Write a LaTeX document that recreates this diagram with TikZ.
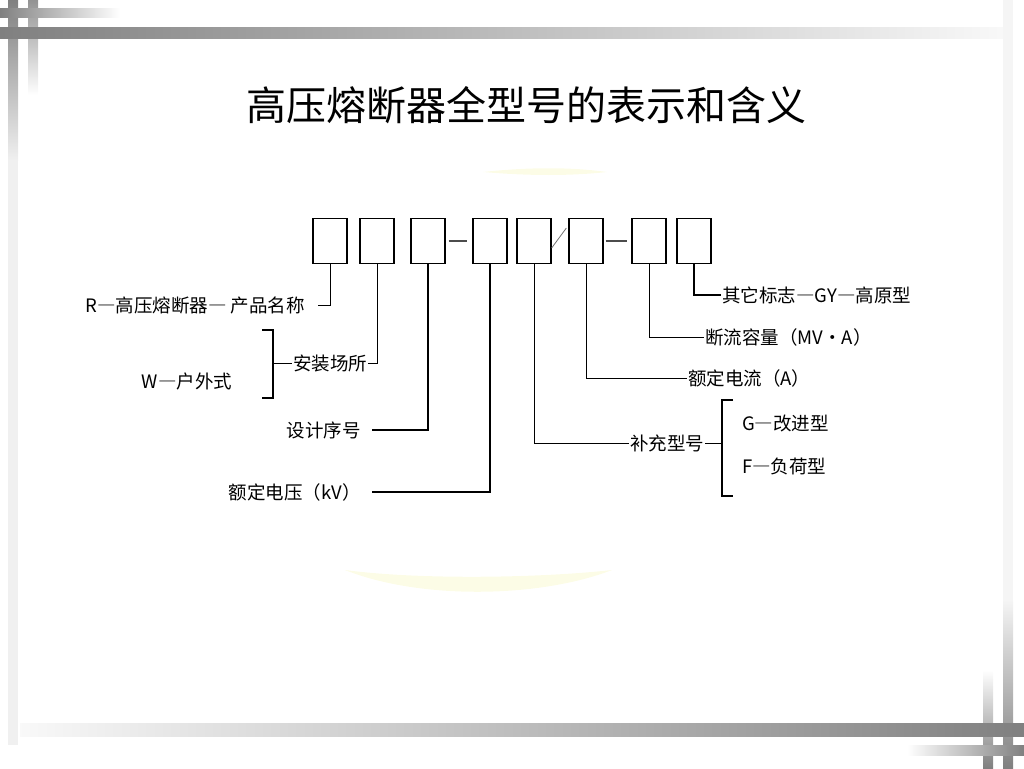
\documentclass[tikz,border=0pt]{standalone}
\usepackage{fontspec}
\setmainfont{Noto Sans CJK SC}
\usetikzlibrary{positioning}
\definecolor{bargray}{RGB}{128,128,128}
\definecolor{paleyellow}{RGB}{252,252,230}
\newcommand{\fwdash}{{\addfontfeature{RawFeature=+fwid}—}}

\begin{document}
\begin{tikzpicture}[x=1pt, y=-1pt,
    cell/.style={rectangle, draw=black, line width=1.3pt, minimum width=34pt,
                 minimum height=45pt, inner sep=0pt},
    lab/.style={inner sep=1pt, font=\fontsize{18.5}{20}\selectfont},
    lead/.style={line width=0.8pt},
    leadthick/.style={line width=1.8pt},
    brk/.style={line width=1.8pt},
    sep/.style={line width=2.5pt, draw=black!70}
  ]
    \useasboundingbox (0,0) rectangle (1024,768);
    \shade[top color=bargray, bottom color=bargray!12] (8,0) rectangle (18,160);
    \fill[bargray!12] (8,160) rectangle (18,745);
    \shade[top color=bargray!85, bottom color=white] (28,0) rectangle (38,95);
    \shade[left color=bargray, right color=white] (0,9) rectangle (120,18);
    \shade[left color=bargray, right color=bargray!5] (0,28) rectangle (1006,39);
    \fill[bargray!8] (1003,0) rectangle (1013,600);
    \shade[bottom color=bargray, top color=bargray!8] (1003,600) rectangle (1013,768);
    \shade[bottom color=bargray, top color=white] (983,670) rectangle (993,768);
    \shade[left color=bargray!5, right color=bargray] (20,723) rectangle (1024,736);
    \shade[left color=white, right color=bargray] (907,745) rectangle (1024,755);
    \fill[paleyellow] (345,570) .. controls (420,600) and (540,598) .. (612,570)
        .. controls (540,578) and (420,580) .. cycle;
    \fill[paleyellow] (483,172) .. controls (530,167) and (570,167) .. (607,172)
        .. controls (570,176) and (530,176) .. cycle;

    \node[font=\fontsize{40}{44}\selectfont] (title) at (526,105) {高压熔断器全型号的表示和含义};

    \foreach \n/\x in {1/330,2/377,3/428,4/490,5/534,6/586,7/649,8/694}
      \node[cell] (b\n) at (\x,241) {};
    \draw[sep, shorten <=3pt, shorten >=5pt] (b3.east) -- (b4.west);
    \draw[lead, black!55] ([yshift=-7pt]b5.east) -- ([xshift=-2pt,yshift=13pt]b6.west);
    \draw[sep, shorten <=2pt, shorten >=4pt] (b6.east) -- (b7.west);

    \node[lab, anchor=east] (name) at (306,305) {R\fwdash 高压熔断器\fwdash{} 产品名称};
    \node[lab] (place) at (330,363) {安装场所};
    \node[lab] (outdoor) at (187,381) {W\fwdash 户外式};
    \coordinate (brk1) at (273,363);
    \node[lab, anchor=east] (serial) at (362,430) {设计序号};
    \node[lab, anchor=east] (volt) at (362,492) {额定电压（kV）};
    \node[lab, anchor=west] (supp) at (629,443) {补充型号};
    \coordinate (brk2) at (722,443);
    \node[lab, anchor=west] (improved) at (741,424) {G\fwdash 改进型};
    \node[lab, anchor=west] (load) at (741,466) {F\fwdash 负荷型};
    \node[lab, anchor=west] (current) at (687,378) {额定电流（A）};
    \node[lab, anchor=west] (capacity) at (704,337) {断流容量（MV•A）};
    \node[lab, anchor=west] (other) at (721,295) {其它标志\fwdash GY\fwdash 高原型};

    \draw[lead] (b1.south) |- ([xshift=12pt]name.east);
    \draw[lead] (b2.south) |- (place.east);
    \draw[lead] (brk1) -- (place.west);
    \draw[brk] (262,330) -- (273,330) -- (273,398) -- (262,398);
    \draw[lead, line width=1.2pt] (b3.south) |- ([xshift=10pt]serial.east);
    \draw[leadthick] (b4.south) |- ([xshift=10pt]volt.east);
    \draw[lead] (b5.south) |- (supp.west);
    \draw[lead] (supp.east) -- (brk2);
    \draw[brk] (733,400) -- (722,400) -- (722,496) -- (733,496);
    \draw[lead] (b6.south) |- (current.west);
    \draw[lead] (b7.south) |- (capacity.west);
    \draw[leadthick] (b8.south) |- (other.west);
  \end{tikzpicture}
\end{document}
